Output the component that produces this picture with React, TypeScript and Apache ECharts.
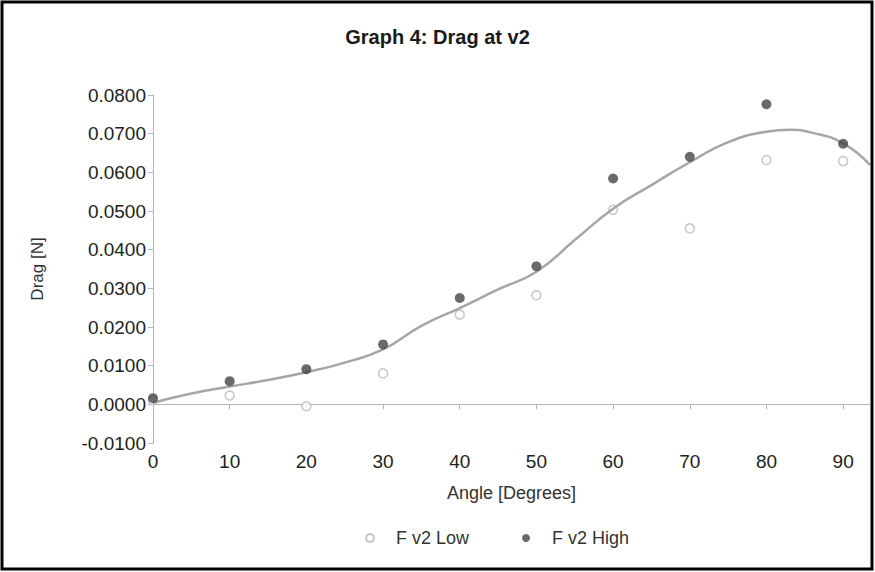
import React, { useEffect, useRef } from "react";
import * as echarts from "echarts";

const angles = [0, 10, 20, 30, 40, 50, 60, 70, 80, 90];
const lowValues = [0.001, 0.0023, -0.0005, 0.008, 0.0232, 0.0282, 0.0503, 0.0455, 0.0632, 0.0629];
const highValues = [0.0016, 0.006, 0.0091, 0.0155, 0.0275, 0.0357, 0.0584, 0.064, 0.0776, 0.0674];

const trendAngles = [0, 5, 10, 15, 20, 25, 30, 35, 40, 45, 50, 55, 60, 65, 70, 75, 80, 83, 86, 90, 93.5];
const trendValues = [0.0004, 0.0028, 0.0046, 0.0063, 0.0083, 0.0108, 0.0142, 0.0203, 0.0249, 0.0297, 0.0343, 0.0425, 0.0506, 0.0567, 0.0626, 0.0678, 0.0705, 0.071, 0.0702, 0.0675, 0.0619];

const yTicks = { min: -0.01, max: 0.08, interval: 0.01 };
const xTicks = { min: 0, max: 93.5, interval: 10 };

export default function App() {
  const ref = useRef<HTMLDivElement>(null);
  useEffect(() => {
    document.body.style.margin = "0";
    const chart = echarts.init(ref.current!, null, { renderer: "svg" });
    const font = "Liberation Sans, Arial, sans-serif";
    chart.setOption({
      animation: false,
      backgroundColor: "#ffffff",
      title: {
        text: "Graph 4: Drag at v2",
        left: "center",
        top: 22,
        textStyle: { fontFamily: font, fontSize: 20, fontWeight: "bold", color: "#1a1a1a" },
      },
      graphic: [
        {
          type: "rect",
          shape: { x: 2, y: 2, width: 870, height: 567 },
          style: { fill: "none", stroke: "#000", lineWidth: 3 },
          z: 100,
        },
      ],
      grid: { left: 153, right: 5, top: 95, bottom: 129, containLabel: false },
      legend: {
        left: 360,
        top: 524,
        itemWidth: 8,
        itemHeight: 8,
        itemGap: 53,
        data: [
          { name: "F v2 Low", icon: "circle" },
          { name: "F v2 High", icon: "circle" },
        ],
        textStyle: { fontFamily: font, fontSize: 18, color: "#333", padding: [0, 0, 0, 17] },
      },
      xAxis: {
        type: "value",
        min: xTicks.min,
        max: xTicks.max,
        interval: xTicks.interval,
        name: "Angle [Degrees]",
        nameLocation: "middle",
        nameGap: 41,
        nameTextStyle: { fontFamily: font, fontSize: 18, color: "#333" },
        axisLine: { onZero: true, lineStyle: { color: "#b5b5b5", width: 1 } },
        axisTick: { show: true, length: 5, lineStyle: { color: "#b5b5b5" } },
        axisLabel: { fontFamily: font, fontSize: 19, color: "#222", margin: 9, showMaxLabel: false },
        splitLine: { show: false },
      },
      yAxis: {
        type: "value",
        min: yTicks.min,
        max: yTicks.max,
        interval: yTicks.interval,
        name: "Drag [N]",
        nameLocation: "middle",
        nameGap: 107,
        nameRotate: 90,
        nameTextStyle: { fontFamily: font, fontSize: 17, color: "#333" },
        axisLine: { show: true, lineStyle: { color: "#b5b5b5", width: 1 } },
        axisTick: { show: true, length: 5, lineStyle: { color: "#b5b5b5" } },
        axisLabel: {
          fontFamily: font,
          fontSize: 19,
          color: "#222",
          margin: 7,
          formatter: (v: number) => v.toFixed(4),
        },
        splitLine: { show: false },
      },
      series: [
        {
          name: "F v2 Low",
          type: "scatter",
          data: angles.map((a, i) => [a, lowValues[i]]),
          symbol: "circle",
          symbolSize: 9,
          itemStyle: { color: "#ffffff", borderColor: "#b8b8b8", borderWidth: 1.5 },
          z: 2,
        },
        {
          name: "Trend",
          type: "line",
          data: trendAngles.map((a, i) => [a, trendValues[i]]),
          smooth: true,
          showSymbol: false,
          symbol: "none",
          lineStyle: { color: "#a6a6a6", width: 2.5 },
          z: 3,
        },
        {
          name: "F v2 High",
          type: "scatter",
          data: angles.map((a, i) => [a, highValues[i]]),
          symbol: "circle",
          symbolSize: 10,
          itemStyle: { color: "#454545" },
          z: 4,
        },
      ],
    });
    return () => chart.dispose();
  }, []);
  return (
    <div
      ref={ref}
      style={{ position: "absolute", left: 0, top: 0, width: 875, height: 572 }}
    />
  );
}
